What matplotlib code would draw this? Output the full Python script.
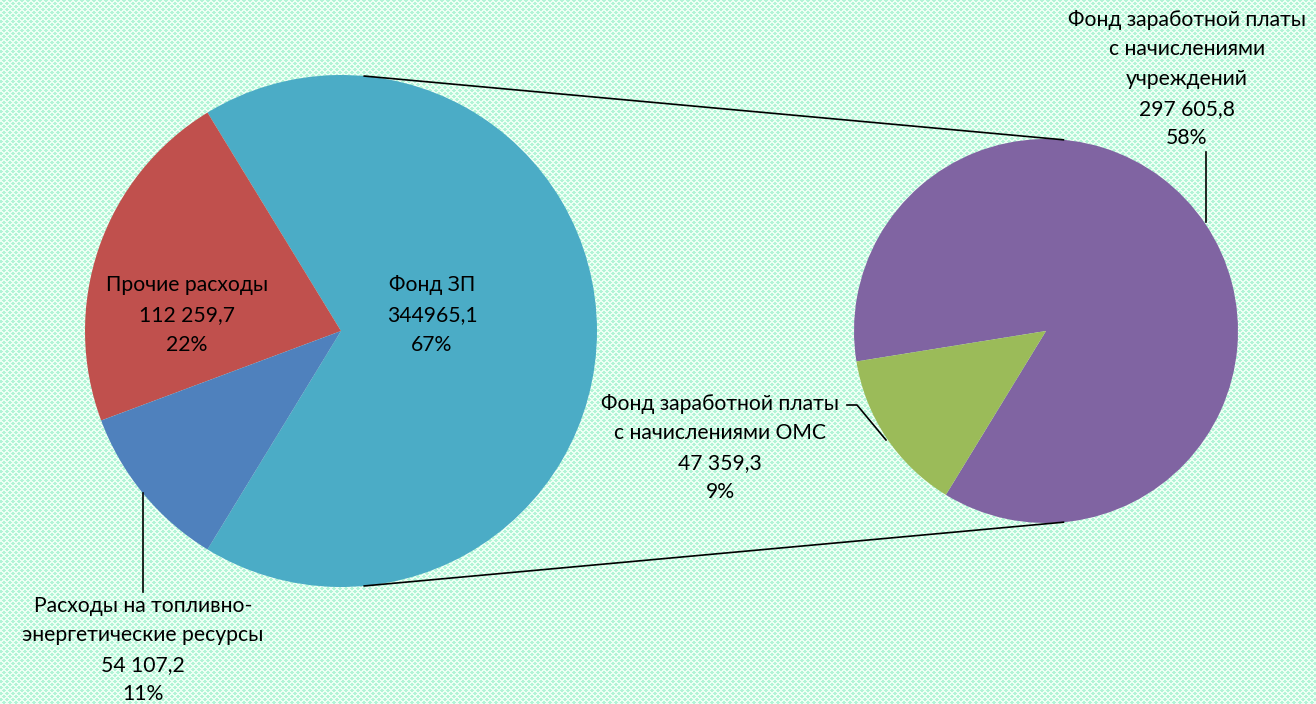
import matplotlib.pyplot as plt
import numpy as np

plt.rcParams['font.family'] = ['Lato', 'DejaVu Sans']

# main pie
main_labels = ['Фонд ЗП', 'Прочие расходы', 'Расходы на топливно-\nэнергетические ресурсы']
main_values = [344965.1, 112259.7, 54107.2]
main_texts = ['344965,1', '112 259,7', '54 107,2']
main_colors = ['#4BACC6', '#C0504D', '#4F81BD']

# secondary pie (breakdown of Фонд ЗП)
sub_labels = ['Фонд заработной платы\nс начислениями\nучреждений', 'Фонд заработной платы\nс начислениями ОМС']
sub_values = [297605.8, 47359.3]
sub_texts = ['297 605,8', '47 359,3']
sub_colors = ['#8064A2', '#9BBB59']

W, H = 1316, 704
fig = plt.figure(figsize=(W / 100, H / 100), dpi=100)

# patterned mint background
yy, xx = np.mgrid[0:H, 0:W]
base = np.array([0.70, 0.96, 0.84])
light = np.array([0.93, 1.0, 0.96])
mask = ((xx + yy) % 6 < 2) | ((xx - yy) % 6 < 2)
bg = np.where(mask[..., None], light, base)
bgax = fig.add_axes([0, 0, 1, 1], zorder=0)
bgax.imshow(bg, interpolation='nearest', aspect='auto')
bgax.axis('off')

ax = fig.add_axes([0, 0, 1, 1], zorder=1)
ax.patch.set_alpha(0)

total = sum(main_values)
start = -main_values[0] / total * 180
c1, r1 = (341, H - 331), 256
c2, r2 = (1046, H - 331), 192

ax.pie(main_values, colors=main_colors, startangle=start, counterclock=True,
       center=c1, radius=r1, frame=True)
ax.pie(sub_values, colors=sub_colors, startangle=start, counterclock=True,
       center=c2, radius=r2, frame=True)
ax.set_xlim(0, W)
ax.set_ylim(0, H)
ax.set_aspect('equal')
ax.axis('off')

# connector lines (external tangents)
d = c2[0] - c1[0]
th = np.arccos((r1 - r2) / d)
for s in (1, -1):
    p1 = (c1[0] + r1 * np.cos(th), c1[1] + s * r1 * np.sin(th))
    p2 = (c2[0] + r2 * np.cos(th), c2[1] + s * r2 * np.sin(th))
    ax.plot([p1[0], p2[0]], [p1[1], p2[1]], color='black', lw=1.2)

fs = 15.2
ls = 1.6
pct = lambda v: f"{round(v / total * 100)}%"

ax.text(432, H - 315, f"{main_labels[0]}\n{main_texts[0]}\n{pct(main_values[0])}",
        ha='center', va='center', fontsize=fs, linespacing=ls)
ax.text(187, H - 315, f"{main_labels[1]}\n{main_texts[1]}\n{pct(main_values[1])}",
        ha='center', va='center', fontsize=fs, linespacing=ls)
ax.text(143, H - 650, f"{main_labels[2]}\n{main_texts[2]}\n{pct(main_values[2])}",
        ha='center', va='center', fontsize=fs, linespacing=ls)
ax.plot([143, 143], [H - 493, H - 592], color='black', lw=1.2)

ax.text(1187, H - 79, f"{sub_labels[0]}\n{sub_texts[0]}\n{pct(sub_values[0])}",
        ha='center', va='center', fontsize=fs, linespacing=ls)
ax.plot([1206, 1206], [H - 152, H - 222], color='black', lw=1.2)

ax.text(720, H - 448, f"{sub_labels[1]}\n{sub_texts[1]}\n{pct(sub_values[1])}",
        ha='center', va='center', fontsize=fs, linespacing=ls)
ax.plot([847, 857, 886], [H - 405, H - 405, H - 440], color='black', lw=1.2)

fig.savefig('out.png', dpi=100)
